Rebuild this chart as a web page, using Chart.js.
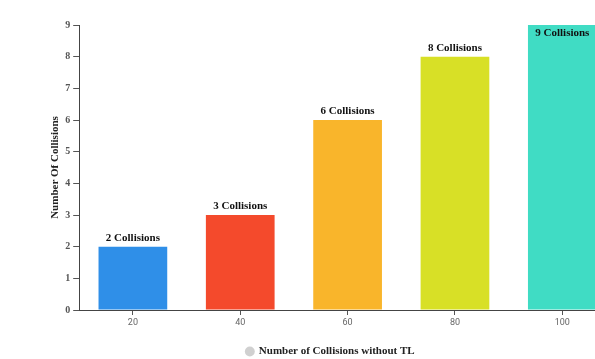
<!DOCTYPE html>
<html>
<head>
<meta charset="utf-8">
<script src="https://cdn.jsdelivr.net/npm/chart.js@4/dist/chart.umd.min.js"></script>
<style>
  html, body { margin: 0; padding: 0; background: #fff; overflow: hidden; }
  #wrap { width: 656px; height: 367px; }
</style>
</head>
<body>
<div id="wrap"><canvas id="collChart"></canvas></div>
<script>
var categories = ['20', '40', '60', '80', '100'];
var collisions = [2, 3, 6, 8, 9];
var barLabels = ['2 Collisions', '3 Collisions', '6 Collisions', '8 Collisions', '9 Collisions'];
var barColors = ['#2f8fe8', '#f44a2c', '#f9b52b', '#d8e026', '#40dcc4'];
var yTicks = [0, 1, 2, 3, 4, 5, 6, 7, 8, 9];

// writes the "N Collisions" text over each bar
var barText = {
  id: 'barText',
  afterDatasetsDraw: function(chart) {
    var ctx = chart.ctx;
    var meta = chart.getDatasetMeta(0);
    ctx.save();
    ctx.font = 'bold 11px "Liberation Serif"';
    ctx.fillStyle = '#111';
    ctx.textAlign = 'center';
    ctx.textBaseline = 'middle';
    meta.data.forEach(function(bar, i) {
      var y = Math.max(bar.y - 9, chart.chartArea.top + 8);
      ctx.fillText(barLabels[i], bar.x, y);
    });
    ctx.restore();
  }
};

new Chart(document.getElementById('collChart'), {
  type: 'bar',
  data: {
    labels: categories,
    datasets: [{
      label: 'Number of Collisions without TL',
      data: collisions,
      backgroundColor: barColors,
      borderWidth: 0,
      barPercentage: 0.8,
      categoryPercentage: 0.8
    }]
  },
  options: {
    responsive: true,
    maintainAspectRatio: false,
    animation: false,
    layout: { padding: { top: 25, right: 40, left: 45, bottom: 0 } },
    plugins: {
      tooltip: { enabled: false },
      legend: {
        position: 'bottom',
        labels: {
          usePointStyle: true,
          pointStyle: 'circle',
          boxWidth: 7,
          boxHeight: 7,
          padding: 7,
          color: '#222',
          font: { family: '"Liberation Serif"', size: 11, weight: 'bold' },
          generateLabels: function(chart) {
            return [{
              text: chart.data.datasets[0].label,
              fillStyle: '#d0d0d0',
              strokeStyle: '#d0d0d0',
              fontColor: '#222',
              lineWidth: 0,
              pointStyle: 'circle',
              datasetIndex: 0
            }];
          }
        }
      }
    },
    scales: {
      x: {
        grid: { display: true, offset: false, drawOnChartArea: false, drawTicks: true, tickLength: 5, tickColor: '#555' },
        border: { color: '#444', width: 1 },
        ticks: { color: '#666', font: { family: 'Roboto', size: 9 }, padding: 2 },
        // empty title only used as spacing above the legend
        title: { display: true, text: ' ', font: { size: 1 }, padding: { top: 0, bottom: 8 } }
      },
      y: {
        min: 0,
        max: 9,
        afterBuildTicks: function(axis) {
          axis.ticks = yTicks.map(function(v) { return { value: v }; });
        },
        grid: { display: true, drawOnChartArea: false, drawTicks: true, tickLength: 6, tickColor: '#555' },
        border: { color: '#444', width: 1 },
        ticks: { color: '#555', font: { family: '"Liberation Serif"', size: 10, weight: 'bold' }, padding: 3 },
        title: {
          display: true,
          text: 'Number Of Collisions',
          color: '#222',
          font: { family: '"Liberation Serif"', size: 11, weight: 'bold' },
          padding: { top: 4, bottom: 0 }
        }
      }
    }
  },
  plugins: [barText]
});
</script>
</body>
</html>
